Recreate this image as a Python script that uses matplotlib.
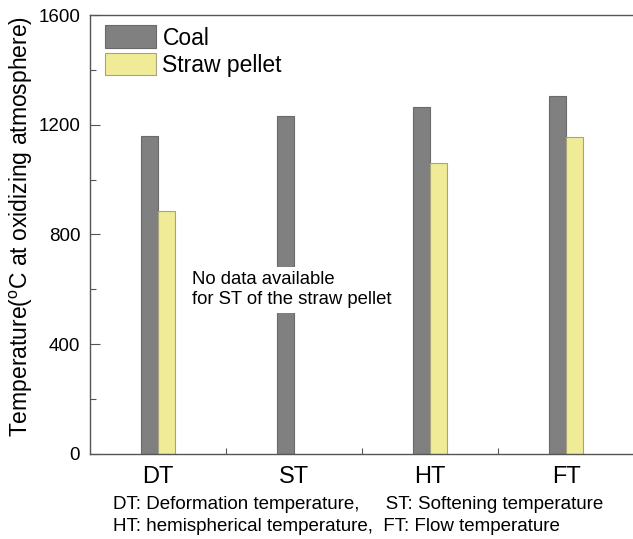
import matplotlib
matplotlib.use("Agg")
import matplotlib.pyplot as plt
import numpy as np
from matplotlib.ticker import MultipleLocator, FixedLocator

plt.rcParams['font.family'] = ['Liberation Sans', 'DejaVu Sans']
plt.rcParams['mathtext.fontset'] = 'custom'
plt.rcParams['mathtext.rm'] = 'Liberation Sans'

categories = ["DT", "ST", "HT", "FT"]
coal = [1160, 1232, 1265, 1305]
straw = [885, np.nan, 1060, 1155]

fig = plt.figure(figsize=(6.33, 5.39), dpi=100)
ax = fig.add_axes([0.142, 0.158, 0.860, 0.814])

x = np.arange(len(categories))
w = 0.125
ax.bar(x - w / 2, coal, w, color="#808080", edgecolor="#6a6a6a", linewidth=0.8, label="Coal", zorder=2)
ax.bar(x + w / 2, straw, w, color="#f0eb96", edgecolor="#a8a47a", linewidth=0.8, label="Straw pellet", zorder=2)

ax.set_xlim(-0.5, 3.5)
ax.set_ylim(0, 1600)
ax.set_xticks(x)
ax.set_xticklabels(categories, fontsize=17)
ax.xaxis.set_minor_locator(FixedLocator([0.5, 1.5, 2.5]))
ax.yaxis.set_major_locator(MultipleLocator(400))
ax.yaxis.set_minor_locator(MultipleLocator(200))
ax.tick_params(axis="y", which="major", direction="in", length=7, width=0.8, color="#555555", labelsize=13.5, pad=7)
ax.tick_params(axis="y", which="minor", direction="in", length=4, width=0.8, color="#555555")
ax.tick_params(axis="x", which="major", direction="in", length=0, labelsize=17, pad=9)
ax.tick_params(axis="x", which="minor", direction="in", length=4, width=0.8, color="#555555")
for s in ax.spines.values():
    s.set_color("#555555")
    s.set_linewidth(1.0)

ax.set_ylabel(r"Temperature($^{\mathregular{o}}$C at oxidizing atmosphere)", fontsize=16.5)
ax.yaxis.set_label_coords(-0.101, 0.517)

ax.legend(loc="upper left", bbox_to_anchor=(0.009, 1.0), fontsize=16.5, frameon=False,
          handlelength=2.2, handleheight=1.15, borderaxespad=0.15, borderpad=0.3,
          handletextpad=0.3, labelspacing=0.14)

ax.text(0.25, 665, "No data available\nfor ST of the straw pellet", fontsize=13.3, va="top", ha="left",
        linespacing=1.2, zorder=5,
        bbox=dict(boxstyle="square,pad=0.25", facecolor="white", edgecolor="none"))

fig.text(0.179, 0.064, "DT: Deformation temperature,     ST: Softening temperature", fontsize=13.5, va="center", ha="left")
fig.text(0.179, 0.023, "HT: hemispherical temperature,  FT: Flow temperature", fontsize=13.5, va="center", ha="left")

fig.savefig("out.png", dpi=100)
